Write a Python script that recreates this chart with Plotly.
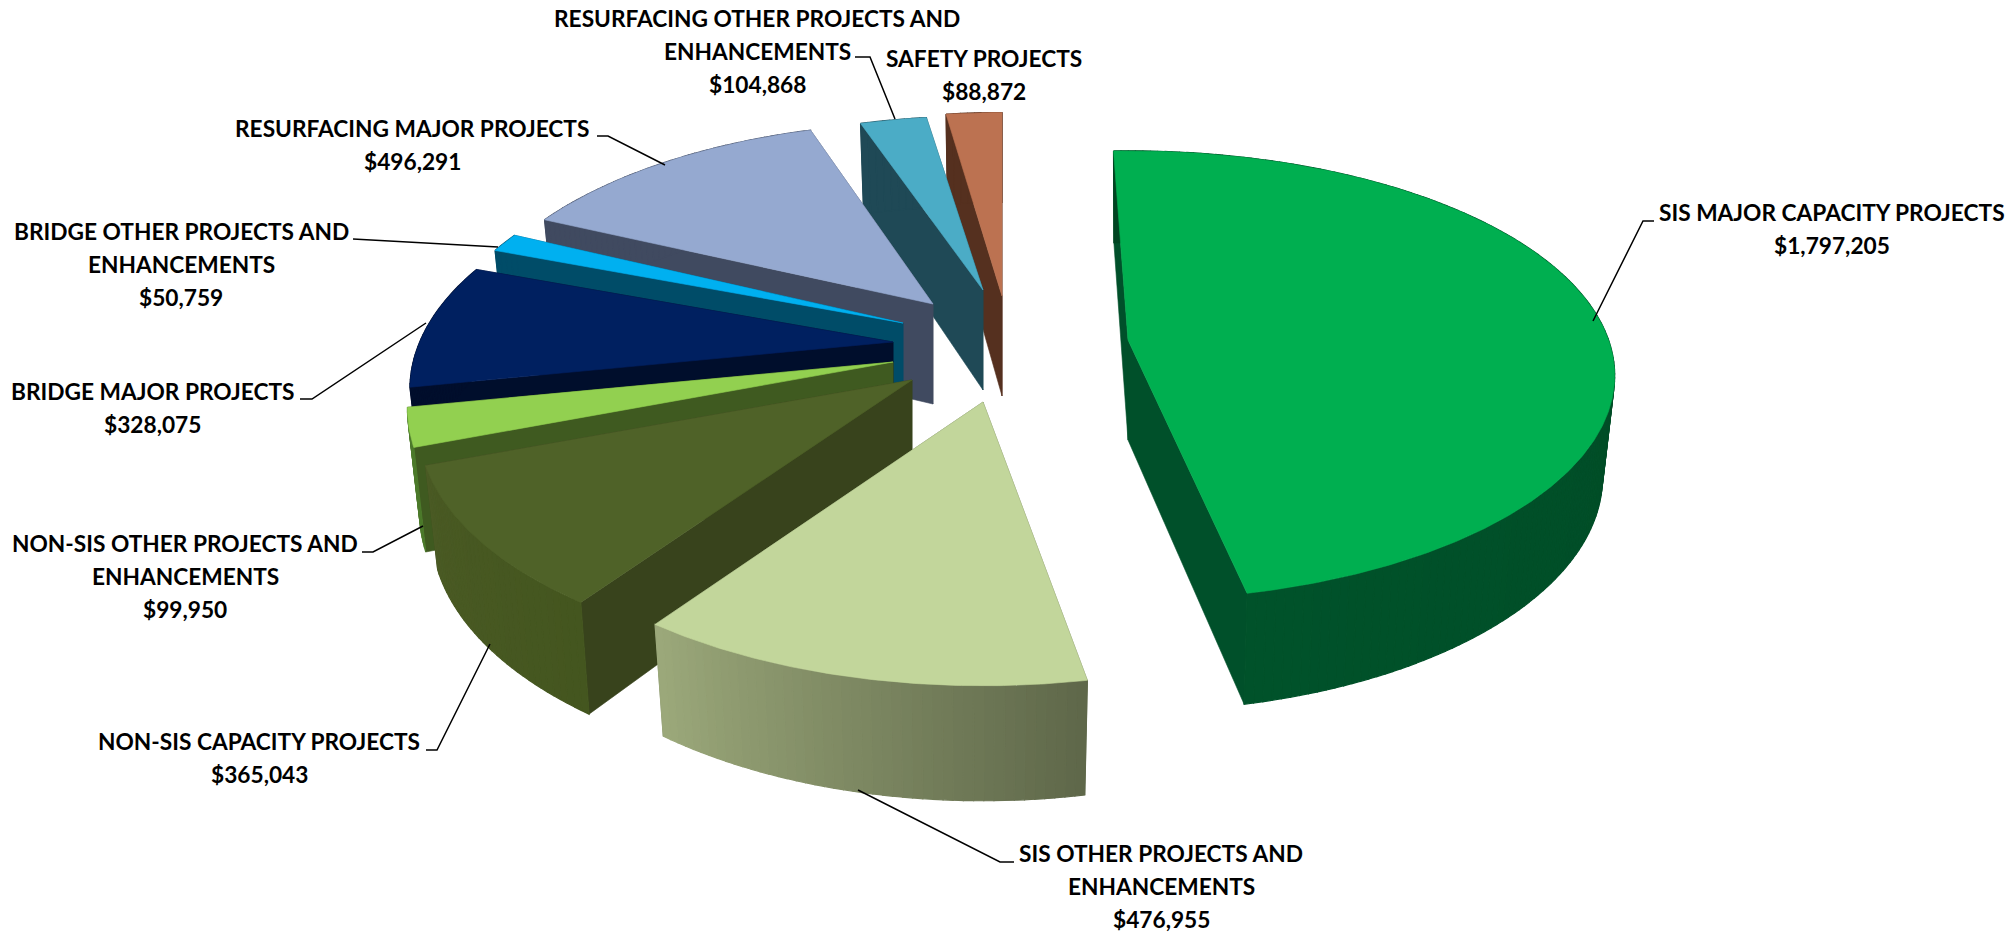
import numpy as np
import plotly.graph_objects as go

# ---- data (clockwise from the top, in $ thousands) ----
categories = [
    "SIS MAJOR CAPACITY PROJECTS",
    "SIS OTHER PROJECTS AND ENHANCEMENTS",
    "NON-SIS CAPACITY PROJECTS",
    "NON-SIS OTHER PROJECTS AND ENHANCEMENTS",
    "BRIDGE MAJOR PROJECTS",
    "BRIDGE OTHER PROJECTS AND ENHANCEMENTS",
    "RESURFACING MAJOR PROJECTS",
    "RESURFACING OTHER PROJECTS AND ENHANCEMENTS",
    "SAFETY PROJECTS",
]
values = [1797205, 476955, 365043, 99950, 328075, 50759, 496291, 104868, 88872]

# ---- style: colours ----
top_colors = ["#00AF50", "#C2D69B", "#4F6228", "#92D050", "#002060", "#00B0F0", "#95A9D0", "#4BACC6", "#BC7251"]
wall_colors = ["#00502A", "#606C4D", "#38431C", "#3F5A20", "#000E2C", "#004C68", "#404A60", "#1F4956", "#55301F"]
rim_start = ["#004522", "#5F684A", "#44561F", "#4C7A2B", "#000E2C", "#004C68", "#404A60", "#1F4956", "#55301F"]
rim_end = ["#00522A", "#9BA87A", "#4A5A24", "#4C7A2B", "#000E2C", "#004C68", "#404A60", "#1F4956", "#55301F"]

# ---- style: exploded position and per-slice view of each slice ----
tip_x = [1128, 983, 912, 893, 893, 903, 933, 983, 1002]
tip_y = [340, 402, 380, 362, 342, 323, 304, 290, 296]
scale_x = [0.995, 0.99, 1.0, 0.985, 0.98, 0.96, 0.96, 0.96, 0.95]
scale_y = [0.965, 1.0, 1.0, 1.0, 1.0, 1.0, 0.96, 0.92, 0.97]
perspective = [0.158, 0.2, 0.2, 0.2, 0.2, 0.2, 0.2, 0.2, 0.2]
turn = [-2, 0, 0, 0, 0, 0, 0, 0, 0]

RADIUS_X, RADIUS_Y, DEPTH = 483, 227, 100
W, H = 2008, 934

# ---- leader lines and label placement ----
label_lines = [
    ["SIS MAJOR CAPACITY PROJECTS"],
    ["SIS OTHER PROJECTS AND", "ENHANCEMENTS"],
    ["NON-SIS CAPACITY PROJECTS"],
    ["NON-SIS OTHER PROJECTS AND", "ENHANCEMENTS"],
    ["BRIDGE MAJOR PROJECTS"],
    ["BRIDGE OTHER PROJECTS AND", "ENHANCEMENTS"],
    ["RESURFACING MAJOR PROJECTS"],
    ["RESURFACING OTHER PROJECTS AND", "ENHANCEMENTS"],
    ["SAFETY PROJECTS"],
]
label_cx = [1832, 1161, 259, 185, 152, 181, 412, 757, 984]
label_cy = [212, 853, 741, 543, 391, 231, 128, 18, 58]
LINE_STEP = 33
leader_x = [[1654, 1643, 1593], [858, 1000, 1014], [426, 437, 490], [362, 373, 423],
            [300, 312, 426], [353, 498], [597, 608, 665], [855, 870, 895], []]
leader_y = [[221, 221, 321], [790, 862, 862], [750, 750, 644], [552, 552, 526],
            [399, 399, 323], [239, 247], [136, 136, 165], [57, 57, 119], []]


def project(theta_deg, i):
    th = np.radians(theta_deg + turn[i])
    X, Y = np.sin(th), -np.cos(th)
    w = 1 - perspective[i] * Y
    dx = RADIUS_X * scale_x[i] * X / w
    dy = RADIUS_Y * scale_y[i] * Y / w
    top_x, top_y = tip_x[i] + dx, tip_y[i] + dy
    d = DEPTH * (1 + 0.6 * (1 / w - 1))
    bot_x, bot_y = tip_x[i] + 0.975 * dx, top_y + d
    return top_x, top_y, bot_x, bot_y


def mix(c1, c2, t):
    a = [int(c1[k:k + 2], 16) for k in (1, 3, 5)]
    b = [int(c2[k:k + 2], 16) for k in (1, 3, 5)]
    return "rgb(%d,%d,%d)" % tuple(round(p + (q - p) * t) for p, q in zip(a, b))


def poly(fig, xs, ys, color, text=None, lw=0.6):
    xs, ys = list(xs), list(ys)
    fig.add_trace(go.Scatter(
        x=xs + xs[:1], y=ys + ys[:1], mode="lines", fill="toself", fillcolor=color,
        line=dict(color=color, width=lw), showlegend=False,
        hoverinfo="text" if text else "skip", text=text, hoveron="fills" if text else None,
    ))


shares = np.array(values, dtype=float) / sum(values) * 360.0
edges = np.concatenate([[0.0], np.cumsum(shares)])

fig = go.Figure()
order = [8, 7, 6, 5, 4, 3, 2, 1, 0]
for i in order:
    a0, a1 = edges[i], edges[i + 1]
    t0 = project(a0, i)
    t1 = project(a1, i)
    tx, ty = tip_x[i], tip_y[i]
    # the two cut walls
    walls = [(a0, t0), (a1, t1)]
    walls.sort(key=lambda w: -np.cos(np.radians(w[0])))
    for _, t in walls:
        poly(fig, [tx, t[0], t[2], tx], [ty, t[1], t[3], ty + DEPTH], wall_colors[i])
    # outer wall, as strips shaded from one end to the other
    n = max(2, int(a1 - a0))
    stops = a0 + (a1 - a0) * np.arange(n + 1) / n
    for k in range(n):
        p, q = project(stops[k], i), project(stops[k + 1], i)
        poly(fig, [p[0], q[0], q[2], p[2]], [p[1], q[1], q[3], p[3]],
             mix(rim_start[i], rim_end[i], k / max(n - 1, 1)), lw=1.2)
    # top face
    arc = np.linspace(a0, a1, max(8, int(a1 - a0) * 2))
    pts = [project(a, i) for a in arc]
    poly(fig, [tx] + [p[0] for p in pts], [ty] + [p[1] for p in pts], top_colors[i],
         text=f"{categories[i]}: ${values[i]:,}")

# leader lines
for lx, ly in zip(leader_x, leader_y):
    if lx:
        fig.add_trace(go.Scatter(x=lx, y=ly, mode="lines", line=dict(color="black", width=1.5),
                                 showlegend=False, hoverinfo="skip"))

# labels
annotations = []
for lines, v, cx, cy in zip(label_lines, values, label_cx, label_cy):
    for n, txt in enumerate(lines + [f"${v:,}"]):
        annotations.append(dict(
            x=cx, y=cy + n * LINE_STEP, xref="x", yref="y", text=f"<b>{txt}</b>", showarrow=False,
            xanchor="center", yanchor="middle",
            font=dict(family="Lato", size=22.7, color="black"),
        ))

fig.update_layout(
    width=W, height=H, margin=dict(l=0, r=0, t=0, b=0),
    paper_bgcolor="white", plot_bgcolor="white", showlegend=False,
    xaxis=dict(range=[0, W], visible=False, fixedrange=True),
    yaxis=dict(range=[H, 0], visible=False, fixedrange=True),
    annotations=annotations,
)
fig.write_html("out.html", config={"displayModeBar": False},
               post_script="document.body.style.margin='0';")
